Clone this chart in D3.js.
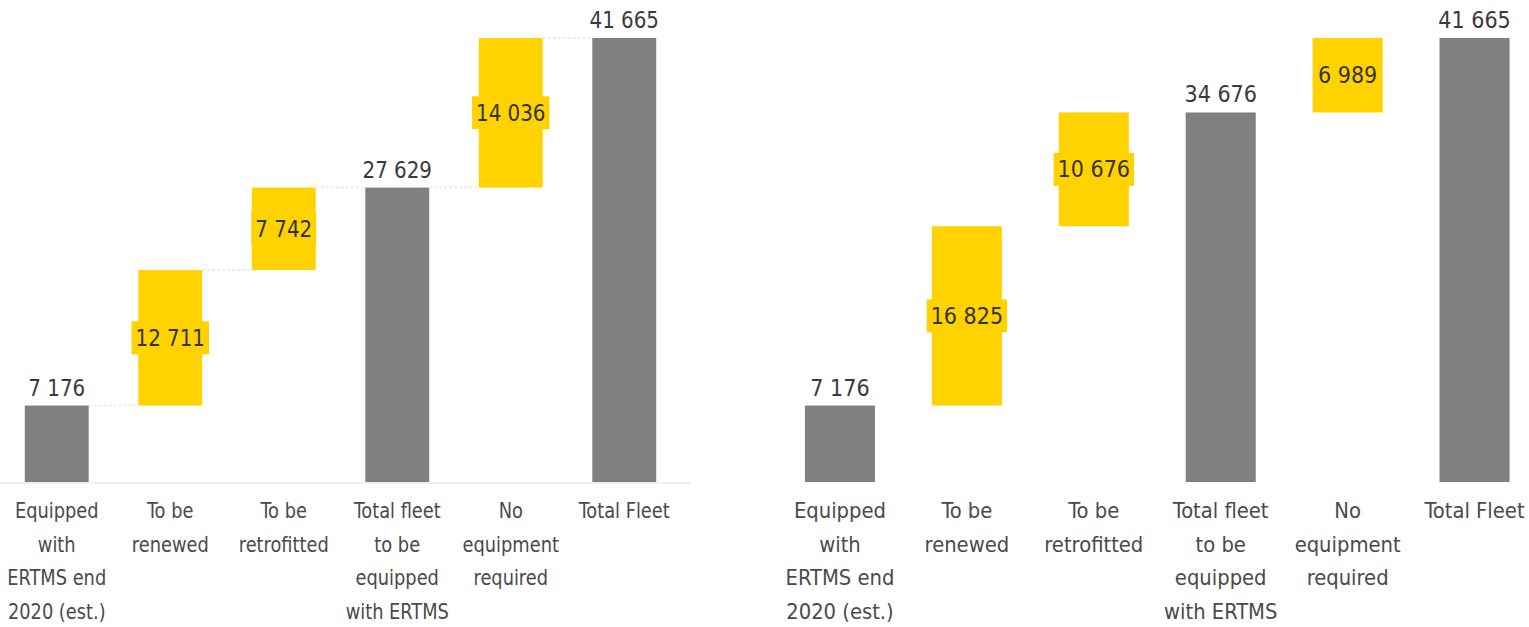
<!DOCTYPE html>
<html>
<head>
<meta charset="utf-8">
<script src="https://cdn.jsdelivr.net/npm/d3@7"></script>
<style>
  html, body { margin: 0; padding: 0; background: #fff; }
  svg { display: block; }
  text { font-family: "Liberation Sans Narrow", "DejaVu Sans Condensed", "Roboto", sans-serif; }
</style>
</head>
<body>
<div id="chart"></div>
<script>
// categories (wrapped the way the source wraps them)
const categories = [
  ["Equipped", "with", "ERTMS end", "2020 (est.)"],
  ["To be", "renewed"],
  ["To be", "retrofitted"],
  ["Total fleet", "to be", "equipped", "with ERTMS"],
  ["No", "equipment", "required"],
  ["Total Fleet"]
];
const barTypes = ["total", "delta", "delta", "total", "delta", "total"];
const leftValues = [7176, 12711, 7742, 27629, 14036, 41665];
const rightValues = [7176, 16825, 10676, 34676, 6989, 41665];

const W = 1529, H = 627;
const GREY = "#808080", YELLOW = "#FFD200";

const svg = d3.select("#chart").append("svg")
    .attr("width", W)
    .attr("height", H);

// same vertical scale for both panels
const y = d3.scaleLinear().domain([0, 41665]).range([482, 38]);

function waterfall(values) {
    let running = 0;
    return values.map((v, i) => {
        let y0, y1;
        if (barTypes[i] === "total") { y0 = 0; y1 = v; running = v; }
        else { y0 = running; y1 = running + v; running = y1; }
        return { i: i, value: v, type: barTypes[i], y0: y0, y1: y1, lines: categories[i] };
    });
}

function fmt(v) {
    return d3.format(",")(v).replace(/,/g, " ");
}

function drawPanel(values, opts) {
    const data = waterfall(values);
    const x = d3.scaleBand()
        .domain(d3.range(data.length))
        .range(opts.range)
        .paddingInner(opts.padIn)
        .paddingOuter(opts.padIn / 2);

    const g = svg.append("g");
    const vs = opts.valueStretch, cs = opts.catStretch; // horizontal text squeeze

    if (opts.baseline) {
        g.append("line")
            .attr("x1", opts.range[0]).attr("x2", opts.range[1] + 10)
            .attr("y1", y(0) + 1).attr("y2", y(0) + 1)
            .attr("stroke", "#f0f0f0").attr("stroke-width", 2);
    }

    // connectors between bars (dotted, very faint)
    if (opts.connectors) {
        g.selectAll("line.conn")
            .data(data.slice(0, -1))
            .join("line")
            .attr("class", "conn")
            .attr("x1", d => x(d.i) + x.bandwidth())
            .attr("x2", d => x(d.i + 1))
            .attr("y1", d => y(d.y1))
            .attr("y2", d => y(d.y1))
            .attr("stroke", "#ececec")
            .attr("stroke-width", 2)
            .attr("stroke-dasharray", "3,2");
    }

    g.selectAll("rect.bar")
        .data(data)
        .join("rect")
        .attr("class", "bar")
        .attr("x", d => x(d.i))
        .attr("width", x.bandwidth())
        .attr("y", d => y(d.y1))
        .attr("height", d => y(d.y0) - y(d.y1))
        .attr("fill", d => d.type === "total" ? GREY : YELLOW);

    // value labels on grey bars: above the bar
    data.filter(d => d.type === "total").forEach(d => {
        const cx = x(d.i) + x.bandwidth() / 2;
        g.append("text")
            .attr("transform", `translate(${cx},${y(d.y1) - 10}) scale(${vs},1)`)
            .attr("text-anchor", "middle")
            .style("font-size", "23px")
            .style("fill", "#3a3a3a")
            .text(fmt(d.value));
    });

    // value labels on yellow bars: centred, on a yellow box
    data.filter(d => d.type === "delta").forEach(d => {
        const cx = x(d.i) + x.bandwidth() / 2;
        const cy = (y(d.y0) + y(d.y1)) / 2;
        const lg = g.append("g").attr("transform", `translate(${cx},${cy})`);
        const box = lg.append("rect").attr("fill", YELLOW);
        const t = lg.append("text")
            .attr("transform", `scale(${vs},1)`)
            .attr("text-anchor", "middle")
            .attr("dy", "0.35em")
            .style("font-size", "23px")
            .style("fill", "#333")
            .text(fmt(d.value));
        const tw = t.node().getComputedTextLength() * vs + opts.boxPad * 2;
        box.attr("x", -tw / 2).attr("width", tw).attr("y", -16.5).attr("height", 33);
    });

    // category labels
    data.forEach(d => {
        const cx = x(d.i) + x.bandwidth() / 2;
        const t = g.append("text")
            .attr("transform", `translate(${cx},518) scale(${cs},1)`)
            .attr("text-anchor", "middle")
            .style("font-size", "22px")
            .style("fill", "#4a4a4a");
        d.lines.forEach((ln, k) => {
            t.append("tspan").attr("x", 0).attr("dy", k === 0 ? 0 : 33.6).text(ln);
        });
    });
}

drawPanel(leftValues, { range: [0, 681], padIn: 0.437, valueStretch: 0.96, catStretch: 0.9, boxPad: 4, baseline: true, connectors: true });
drawPanel(rightValues, { range: [776.5, 1538], padIn: 0.448, valueStretch: 1.0, catStretch: 0.99, boxPad: 4, baseline: false, connectors: false });
</script>
</body>
</html>
